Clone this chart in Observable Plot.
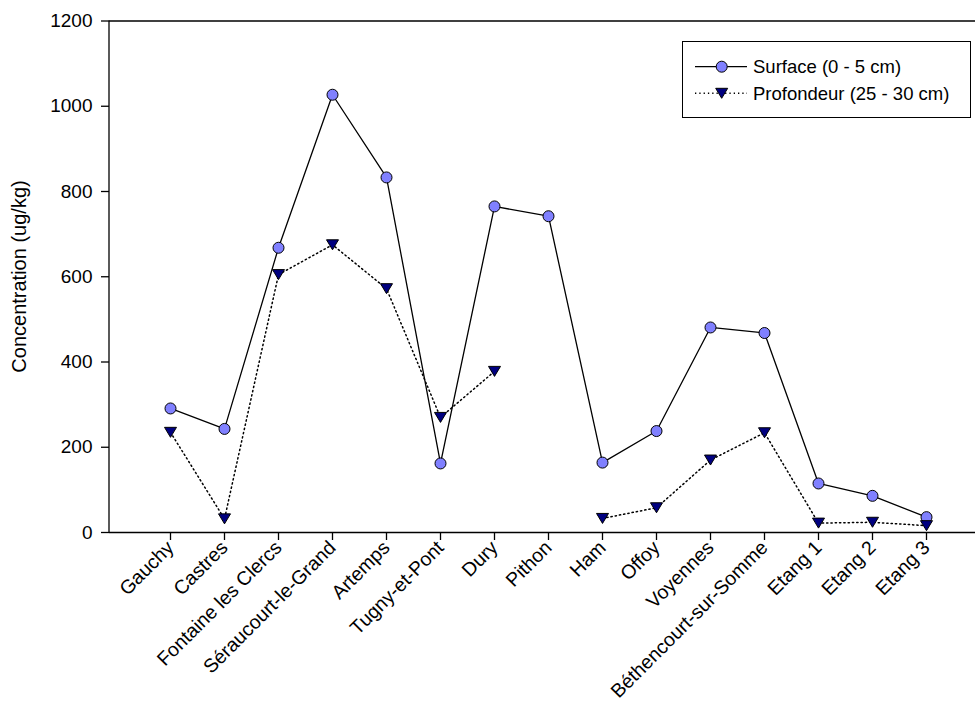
<!DOCTYPE html>
<html>
<head>
<meta charset="utf-8">
<script src="https://cdn.jsdelivr.net/npm/d3@7"></script>
<script src="https://cdn.jsdelivr.net/npm/@observablehq/plot@0.6"></script>
<style>
  html, body { margin: 0; padding: 0; background: #fff; }
  #wrap { position: relative; width: 975px; height: 709px; overflow: hidden; font-family: "Liberation Sans", Arial, sans-serif; }
  #legend { position: absolute; left: 682px; top: 41px; width: 289px; height: 77px; border: 1px solid #000; box-sizing: border-box; background: #fff; }
</style>
</head>
<body>
<div id="wrap"><div id="legend"></div></div>
<script>
const sites = ["Gauchy", "Castres", "Fontaine les Clercs", "Séraucourt-le-Grand", "Artemps", "Tugny-et-Pont", "Dury", "Pithon", "Ham", "Offoy", "Voyennes", "Béthencourt-sur-Somme", "Etang 1", "Etang 2", "Etang 3"];
const surface = [291, 243, 668, 1027, 833, 162, 765, 742, 164, 238, 481, 468, 115, 86, 36];
const profondeur = [235, 32, 605, 675, 572, 270, 378, null, 33, 58, 170, 234, 22, 24, 16];
const seriesNames = ["Surface (0 - 5 cm)", "Profondeur (25 - 30 cm)"];
const yTicks = [0, 200, 400, 600, 800, 1000, 1200];
const yLabel = "Concentration (ug/kg)";

const surfData = sites.map((s, i) => ({site: s, v: surface[i]}));
const profData = sites.map((s, i) => ({site: s, v: profondeur[i] == null ? NaN : profondeur[i]}));

const downTriangle = {
  draw(ctx, size) {
    ctx.moveTo(-6, -5);
    ctx.lineTo(6, -5);
    ctx.lineTo(0, 5);
    ctx.closePath();
  }
};

const font = "\"Liberation Sans\", Arial, sans-serif";

// left axis line drawn along the frame's left edge
const leftLine = (index, scales, values, dims) => {
  const g = d3.create("svg:line")
    .attr("x1", dims.marginLeft).attr("x2", dims.marginLeft)
    .attr("y1", scales.y(1200)).attr("y2", scales.y(0))
    .attr("stroke", "#000").attr("stroke-width", 1.3);
  return g.node();
};

const chart = Plot.plot({
  width: 975,
  height: 709,
  marginLeft: 109,
  marginRight: 0,
  marginTop: 20,
  marginBottom: 177,
  style: {fontSize: "19px", fontFamily: font, background: "#fff", color: "#000"},
  x: {type: "point", domain: sites, range: [164, 931], padding: 0},
  y: {domain: [0, 1200], range: [532, 20.5]},
  marks: [
    Plot.ruleY([0, 1200], {stroke: "#000", strokeWidth: 1.3}),
    leftLine,
    Plot.axisY({ticks: yTicks, tickFormat: d => String(d), tickSize: 8, tickPadding: 9, fontSize: 19, label: null, strokeWidth: 1.3}),
    Plot.axisY({ticks: [], tickSize: 0, fontSize: 20, label: yLabel, labelAnchor: "center", labelOffset: 98, labelArrow: "none"}),
    Plot.axisX({tickSize: 8, tickPadding: 4, tickRotate: -45, fontSize: 19.5, label: null, strokeWidth: 1.3}),
    Plot.line(surfData, {x: "site", y: "v", stroke: "#000", strokeWidth: 1.3}),
    Plot.line(profData, {x: "site", y: "v", stroke: "#000", strokeWidth: 1.5, strokeDasharray: "1.3,3"}),
    Plot.dot(surfData, {x: "site", y: "v", r: 5.5, fill: "#8080ff", stroke: "#000", strokeWidth: 1, symbol: "circle"}),
    Plot.dot(profData.filter(d => !isNaN(d.v)), {x: "site", y: "v", fill: "#000080", stroke: "#000", strokeWidth: 1, symbol: downTriangle})
  ]
});
document.getElementById("wrap").prepend(chart);

// Legend
const leg = d3.select("#legend").append("svg").attr("width", 287).attr("height", 75)
  .style("position", "absolute").style("left", "0").style("top", "0");
const rows = [
  {name: seriesNames[0], y: 24.7, dash: null, sym: "circle"},
  {name: seriesNames[1], y: 51.3, dash: "1.3,3", sym: "tri"}
];
rows.forEach(r => {
  leg.append("line").attr("x1", 12).attr("x2", 64).attr("y1", r.y).attr("y2", r.y)
    .attr("stroke", "#000").attr("stroke-width", r.dash ? 1.5 : 1.3)
    .attr("stroke-dasharray", r.dash);
  if (r.sym === "circle") {
    leg.append("circle").attr("cx", 38.7).attr("cy", r.y).attr("r", 5.5)
      .attr("fill", "#8080ff").attr("stroke", "#000");
  } else {
    leg.append("path").attr("d", `M${38.7-6},${r.y-5}L${38.7+6},${r.y-5}L${38.7},${r.y+5}Z`)
      .attr("fill", "#000080").attr("stroke", "#000");
  }
  leg.append("text").attr("x", 70).attr("y", r.y).attr("dy", "0.35em")
    .attr("font-family", font).attr("font-size", 18.5).text(r.name);
});
</script>
</body>
</html>
